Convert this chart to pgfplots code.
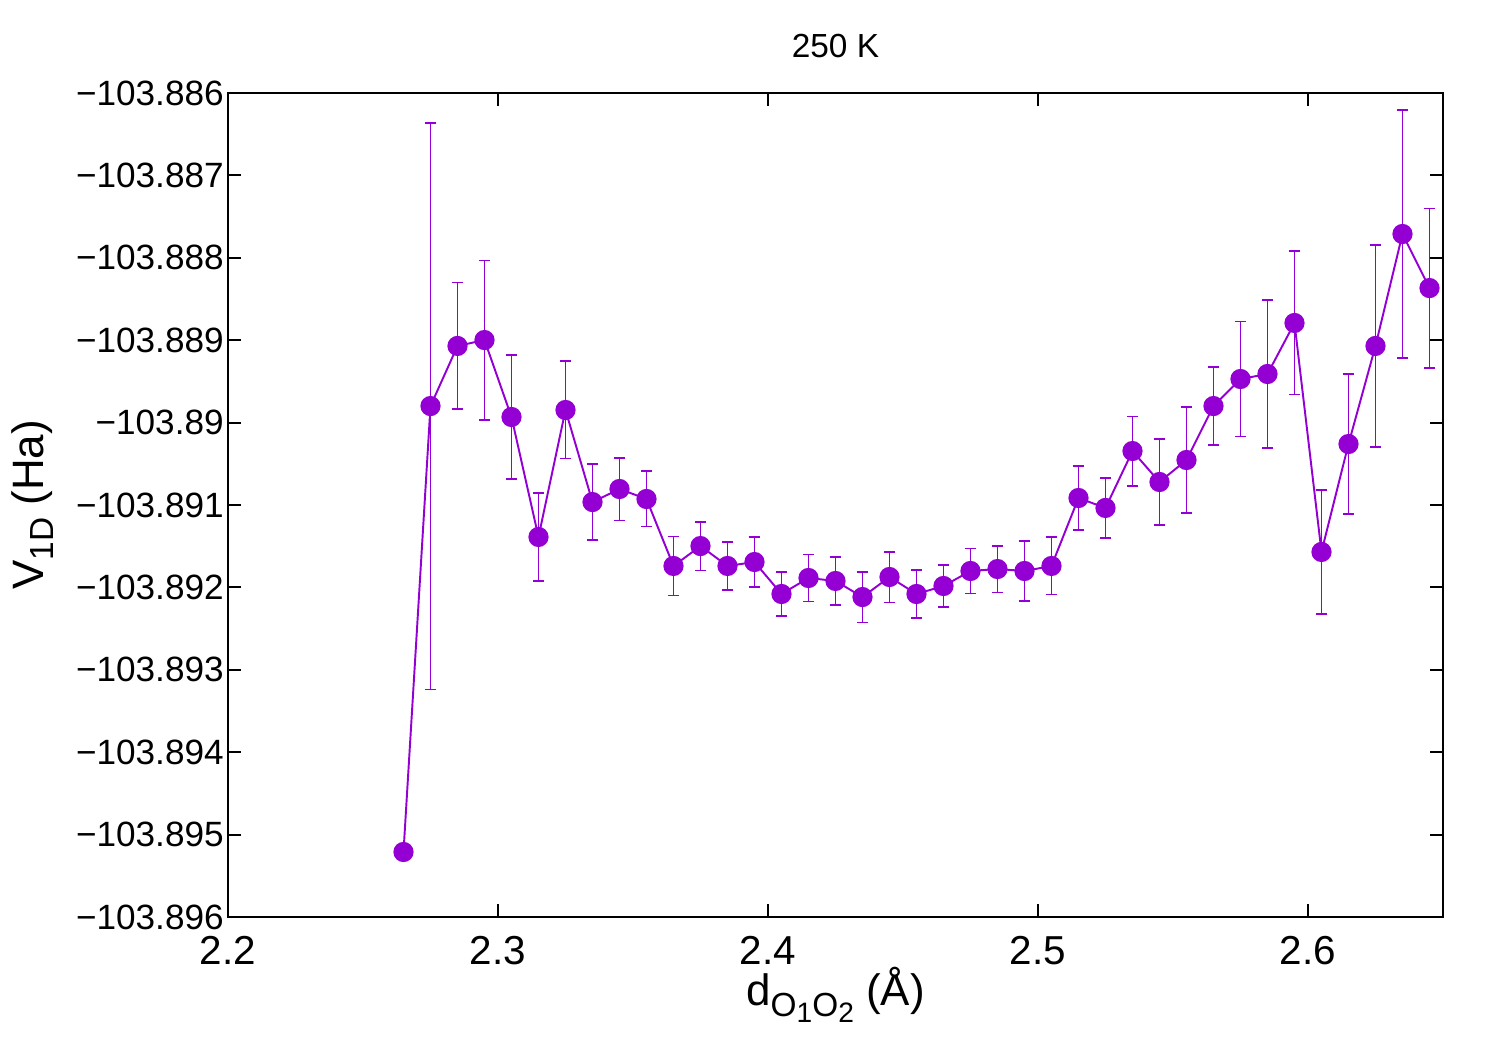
\documentclass[border=0pt]{standalone}
\usepackage{pgfplots}
\pgfplotsset{compat=1.18}
\usepackage{fontspec}
\setmainfont{Liberation Sans}
\setsansfont{Liberation Sans}
\definecolor{dviolet}{HTML}{9400D3}
\newcommand{\sub}[1]{\raisebox{-0.45ex}{\fontsize{9.5}{10}\selectfont #1}}
\newcommand{\subsub}[1]{\raisebox{-0.35ex}{\fontsize{8}{9}\selectfont #1}}
\pgfplotstableread{
x y e
2.265 -9.211 0
2.275 -3.799 3.44
2.285 -3.070 0.77
2.295 -2.998 0.965
2.305 -3.932 0.752
2.315 -5.388 0.534
2.325 -3.847 0.589
2.335 -4.964 0.461
2.345 -4.806 0.382
2.355 -4.927 0.334
2.365 -5.740 0.358
2.375 -5.498 0.297
2.385 -5.740 0.291
2.395 -5.692 0.303
2.405 -6.080 0.267
2.415 -5.886 0.285
2.425 -5.922 0.291
2.435 -6.117 0.309
2.445 -5.874 0.309
2.455 -6.080 0.291
2.465 -5.983 0.255
2.475 -5.801 0.273
2.485 -5.777 0.285
2.495 -5.801 0.364
2.505 -5.740 0.346
2.515 -4.915 0.388
2.525 -5.036 0.364
2.535 -4.345 0.419
2.545 -4.721 0.522
2.555 -4.454 0.643
2.565 -3.799 0.473
2.575 -3.471 0.698
2.585 -3.410 0.898
2.595 -2.791 0.868
2.605 -5.570 0.752
2.615 -4.260 0.850
2.625 -3.070 1.226
2.635 -1.711 1.505
2.645 -2.367 0.965
}\data
\begin{document}
\begin{tikzpicture}
\path[use as bounding box] (-2.28cm,-1.33cm) rectangle (12.72cm,9.17cm);
\begin{axis}[
  at={(0,0)}, anchor=south west,
  scale only axis, width=12.15cm, height=8.24cm,
  xmin=2.2, xmax=2.65, ymin=-10, ymax=0,
  xtick={2.2,2.3,2.4,2.5,2.6},
  xticklabels={2.2,2.3,2.4,2.5,2.6},
  ytick={-10,-9,-8,-7,-6,-5,-4,-3,-2,-1,0},
  yticklabels={−103.896,−103.895,−103.894,−103.893,−103.892,−103.891,−103.89,−103.889,−103.888,−103.887,−103.886},
  tick align=inside, major tick length=0.13cm,
  tick style={black, line width=0.6pt},
  axis line style={black, line width=0.8pt},
  x tick label style={font=\fontsize{11.5}{13}\selectfont, yshift=-2pt},
  y tick label style={font=\fontsize{10}{12}\selectfont, xshift=2.3pt},
  title={250 K},
  title style={font=\fontsize{9.5}{11}\selectfont, at={(axis description cs:0.5,1)}, anchor=south, yshift=0.02cm},
  xlabel={d\sub{O\subsub{1}O\subsub{2}} (Å)},
  ylabel={V\sub{1D} (Ha)},
  xlabel style={font=\fontsize{12.5}{14}\selectfont, at={(axis description cs:0.5,-0.0947)}, anchor=center},
  ylabel style={font=\fontsize{12.5}{14}\selectfont, at={(axis description cs:-0.161,0.5)}, anchor=center},
  clip=false,
]
\addplot[color=dviolet, line width=0.55pt, mark=*, mark size=2.6pt,
  mark options={fill=dviolet, draw=dviolet},
  error bars/.cd, y dir=both, y explicit,
  error bar style={dviolet, line width=0.55pt},
  error mark options={rotate=90, mark size=1.7pt, line width=0.55pt, dviolet}]
  table[x=x, y=y, y error=e]{\data};
\end{axis}
\end{tikzpicture}
\end{document}
